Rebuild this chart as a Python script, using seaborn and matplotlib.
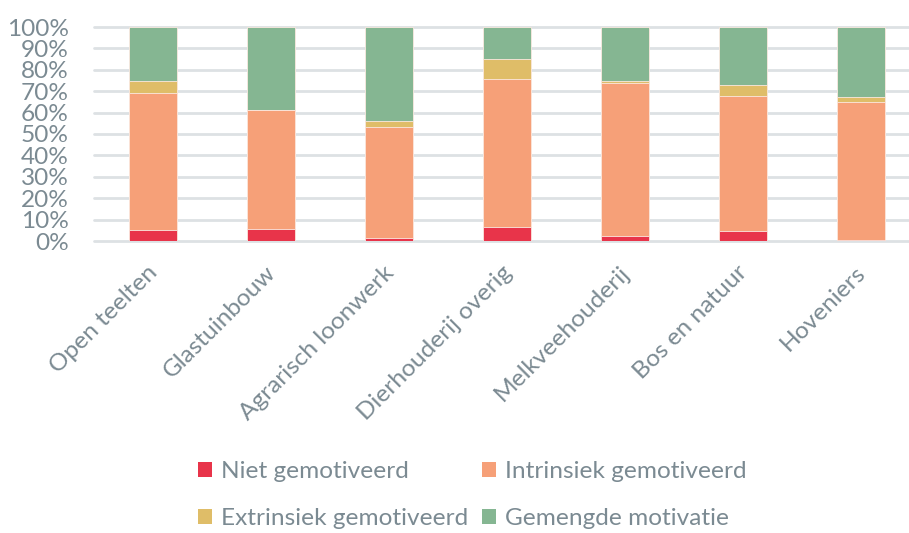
import matplotlib
matplotlib.use("Agg")
import matplotlib.pyplot as plt
import matplotlib.transforms as mtrans
import seaborn as sns
import numpy as np
import pandas as pd
from matplotlib.patches import Patch

categories = ["Open teelten", "Glastuinbouw", "Agrarisch loonwerk", "Dierhouderij overig",
              "Melkveehouderij", "Bos en natuur", "Hoveniers"]
niet = [5.0, 5.5, 1.5, 6.5, 2.5, 4.5, 0.6]
intrinsiek = [64.0, 55.7, 52.0, 69.3, 71.2, 63.4, 64.5]
extrinsiek = [6.0, 0.0, 2.6, 9.2, 1.0, 5.0, 2.0]
gemengd = [25.0, 38.8, 43.9, 15.0, 25.3, 27.1, 32.9]

series_names = ["Niet gemotiveerd", "Intrinsiek gemotiveerd", "Extrinsiek gemotiveerd", "Gemengde motivatie"]
colors = ["#e8344a", "#f6a078", "#dfbd68", "#85b692"]
text_color = "#7b8a92"
fs = 17.6

sns.set_theme(style="white")
plt.rcParams["font.family"] = ["Lato", "DejaVu Sans"]

df = pd.DataFrame({"cat": categories, "niet": niet, "intr": intrinsiek,
                   "extr": extrinsiek, "gem": gemengd})
df["c1"] = df["niet"]
df["c2"] = df["c1"] + df["intr"]
df["c3"] = df["c2"] + df["extr"]
df["c4"] = df["c3"] + df["gem"]

fig = plt.figure(figsize=(9.09, 5.33), dpi=100)
ax = fig.add_axes([94 / 909, 292 / 533, 1 - 94 / 909, 214 / 533])

for col, color in zip(["c4", "c3", "c2", "c1"], colors[::-1]):
    sns.barplot(data=df, x="cat", y=col, color=color, width=0.4, ax=ax,
                edgecolor="#fbe9e0", linewidth=0.6, saturation=1, zorder=3)

ax.set_ylim(0, 100)
ax.set_xlim(-0.5, 6.407)
ax.set_yticks(np.arange(0, 101, 10))
ax.set_yticklabels([f"{v}%" for v in range(0, 101, 10)])
for v in range(0, 101, 10):
    ax.axhline(v, color="#dde1e4", lw=2, zorder=1, clip_on=False)
ax.set_xlabel("")
ax.set_ylabel("")
for s in ax.spines.values():
    s.set_visible(False)
ax.tick_params(axis="y", length=0, pad=18, labelsize=fs, labelcolor=text_color)
ax.tick_params(axis="x", length=0, pad=15, labelsize=fs, labelcolor=text_color)
plt.setp(ax.get_xticklabels(), rotation=45, ha="right", rotation_mode="anchor")
offset = mtrans.ScaledTranslation(-6 / 100, 0, fig.dpi_scale_trans)
for lbl in ax.get_xticklabels():
    lbl.set_transform(lbl.get_transform() + offset)

handles = [Patch(facecolor=c, edgecolor="none") for c in colors]
order = [0, 2, 1, 3]
leg = fig.legend([handles[i] for i in order], [series_names[i] for i in order],
                 ncol=2, loc="center", bbox_to_anchor=(472 / 909, 0.071),
                 frameon=False, fontsize=fs, labelcolor=text_color,
                 handlelength=0.6, handleheight=0.6, handletextpad=0.35,
                 columnspacing=0.55, labelspacing=1.07)

fig.savefig("out.png", dpi=100)
